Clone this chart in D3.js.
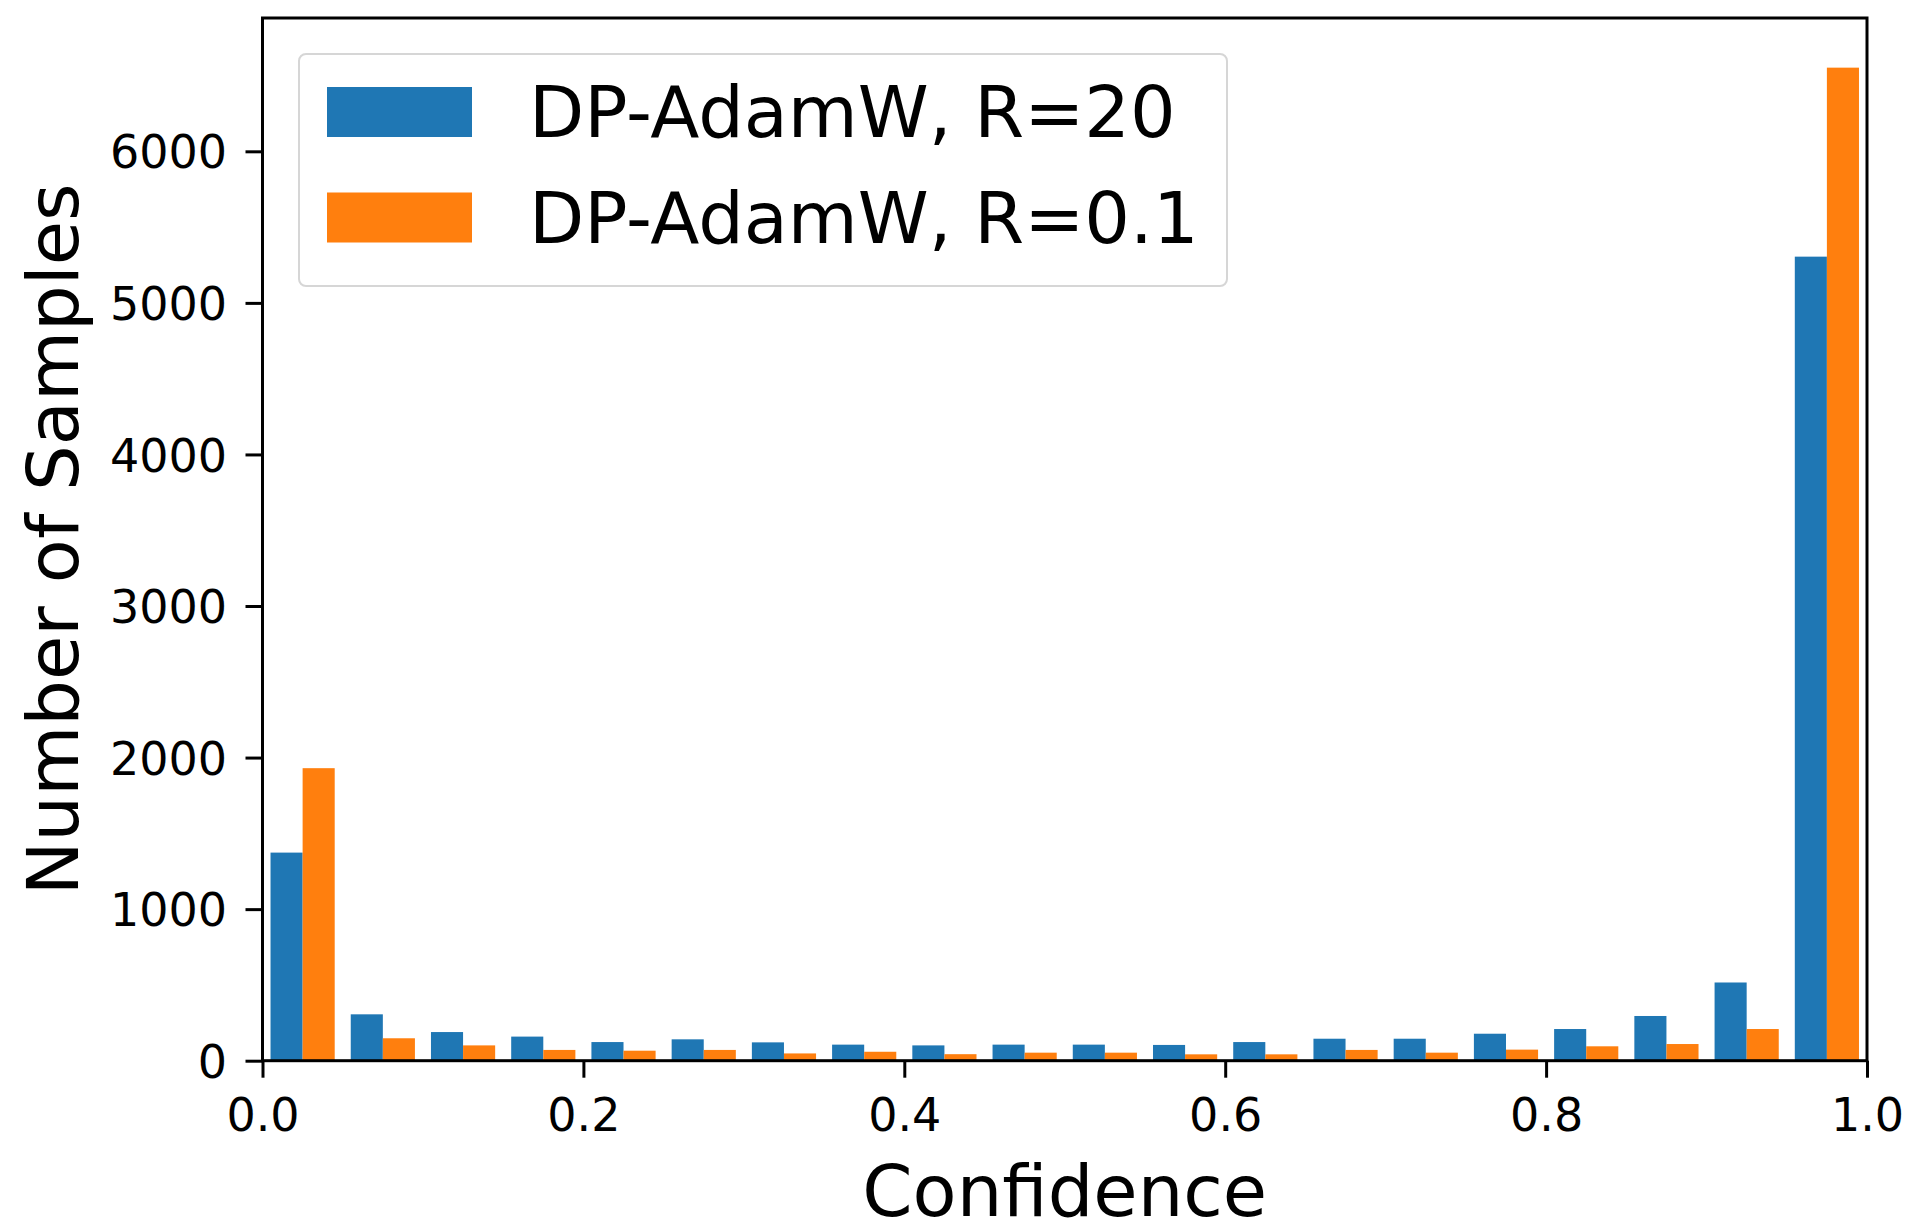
<!DOCTYPE html>
<html>
<head>
<meta charset="utf-8">
<script src="https://cdn.jsdelivr.net/npm/d3@7"></script>
<style>
  html, body { margin: 0; padding: 0; background: #ffffff; }
  svg { display: block; }
  text { font-family: "DejaVu Sans", sans-serif; fill: #000; }
</style>
</head>
<body>
<svg id="chart" width="1920" height="1232"></svg>
<script>
// ---- data ----
const binStarts = [0.00, 0.05, 0.10, 0.15, 0.20, 0.25, 0.30, 0.35, 0.40, 0.45,
                   0.50, 0.55, 0.60, 0.65, 0.70, 0.75, 0.80, 0.85, 0.90, 0.95];
const binWidth = 0.05;
const seriesNames = ["DP-AdamW, R=20", "DP-AdamW, R=0.1"];
const seriesR20 = [1373, 306, 189, 159, 123, 141, 121, 106, 101, 106,
                   106, 104, 123, 145, 145, 178, 209, 295, 516, 5305];
const seriesR01 = [1930, 148, 101, 71, 66, 71, 48, 59, 43, 53,
                   53, 42, 42, 71, 53, 73, 95, 110, 209, 6552];
const colors = ["#1f77b4", "#ff7f0e"];
const xTicks = [0.0, 0.2, 0.4, 0.6, 0.8, 1.0];
const yTicks = [0, 1000, 2000, 3000, 4000, 5000, 6000];
const xLabel = "Confidence";
const yLabel = "Number of Samples";

// ---- layout ----
const svg = d3.select("#chart");
const L = 262.5, R = 1867, T = 18, B = 1060.7;
const yMax = d3.max(seriesR01.concat(seriesR20)) * 1.05;

const x = d3.scaleLinear().domain([0, 1]).range([L, R]);
const y = d3.scaleLinear().domain([0, yMax]).range([B, T]);

const series = [seriesR20, seriesR01];

// bars
const g = svg.append("g");
series.forEach((vals, si) => {
  g.selectAll(null)
    .data(binStarts.map((b, i) => ({ b, v: vals[i] })))
    .enter().append("rect")
    .attr("x", d => x(d.b + binWidth * (0.1 + 0.4 * si)))
    .attr("width", d => x(d.b + binWidth * (0.5 + 0.4 * si)) - x(d.b + binWidth * (0.1 + 0.4 * si)))
    .attr("y", d => y(d.v))
    .attr("height", d => y(0) - y(d.v))
    .attr("fill", colors[si]);
});

// axes
const xAxis = d3.axisBottom(x).tickValues(xTicks).tickFormat(d3.format(".1f"))
  .tickSize(17).tickSizeOuter(0).tickPadding(21);
const yAxis = d3.axisLeft(y).tickValues(yTicks).tickFormat(d3.format("d"))
  .tickSize(17).tickSizeOuter(0).tickPadding(18.5);

const gx = svg.append("g").attr("transform", `translate(0,${B})`).call(xAxis);
const gy = svg.append("g").attr("transform", `translate(${L},0)`).call(yAxis);
[gx, gy].forEach(a => {
  a.select(".domain").remove();
  a.selectAll(".tick line").attr("stroke", "#000").attr("stroke-width", 3);
  a.selectAll(".tick text").attr("font-size", 46).attr("font-family", "DejaVu Sans").attr("fill", "#000");
});
gy.selectAll(".tick text").attr("dy", "0.36em");

// frame (spines)
svg.append("rect")
  .attr("x", L).attr("y", T)
  .attr("width", R - L).attr("height", B - T)
  .attr("fill", "none").attr("stroke", "#000").attr("stroke-width", 3);

// axis labels
svg.append("text")
  .attr("x", (L + R) / 2).attr("y", 1216)
  .attr("text-anchor", "middle").attr("font-size", 72)
  .text(xLabel);
svg.append("text")
  .attr("transform", `translate(78,${(T + B) / 2}) rotate(-90)`)
  .attr("text-anchor", "middle").attr("font-size", 72)
  .text(yLabel);

// legend
const lg = svg.append("g");
lg.append("rect")
  .attr("x", 299).attr("y", 54).attr("width", 928).attr("height", 232)
  .attr("rx", 7).attr("ry", 7)
  .attr("fill", "#fff").attr("fill-opacity", 0.8)
  .attr("stroke", "#d6d6d6").attr("stroke-width", 2);
seriesNames.forEach((name, i) => {
  lg.append("rect")
    .attr("x", 327).attr("y", 87 + i * 105.5)
    .attr("width", 145).attr("height", 50)
    .attr("fill", colors[i]);
  lg.append("text")
    .attr("x", 529).attr("y", 137 + i * 106)
    .attr("font-size", 71.8)
    .text(name);
});
</script>
</body>
</html>
